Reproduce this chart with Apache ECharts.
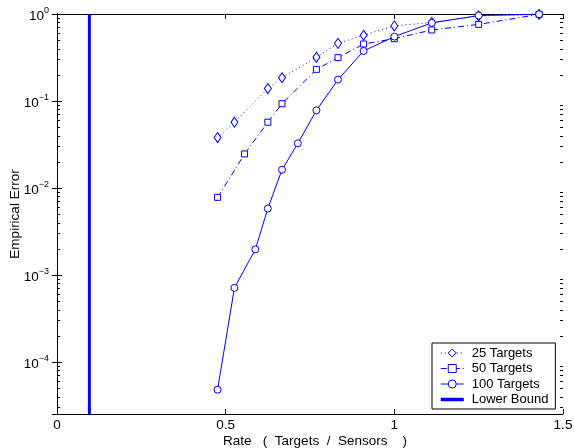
<!DOCTYPE html>
<html>
<head>
<meta charset="utf-8">
<script src="https://cdn.jsdelivr.net/npm/echarts@6/dist/echarts.min.js"></script>
<style>html,body{margin:0;padding:0;background:#fff}#c{width:574px;height:448px}</style>
</head>
<body>
<div id="c"></div>
<script>
// ---- data ----
var rates25 = [0.476, 0.526, 0.625, 0.667, 0.769, 0.833, 0.909, 1.0, 1.111, 1.25, 1.429];
var err25   = [0.038, 0.057, 0.139, 0.185, 0.318, 0.46, 0.57, 0.73, 0.80, 0.95, 0.99];
var rates50 = [0.476, 0.556, 0.625, 0.667, 0.769, 0.833, 0.909, 1.0, 1.111, 1.25, 1.429];
var err50   = [0.0078, 0.0246, 0.057, 0.093, 0.231, 0.315, 0.452, 0.52, 0.655, 0.76, 0.99];
var rates100 = [0.476, 0.526, 0.588, 0.625, 0.667, 0.714, 0.769, 0.833, 0.909, 1.0, 1.111, 1.25, 1.429];
var err100   = [4.8e-5, 7.1e-4, 1.97e-3, 5.8e-3, 0.0162, 0.0326, 0.078, 0.176, 0.376, 0.55, 0.79, 0.96, 0.995];
var lowerBound = 0.096;
var xTicks = [0, 0.5, 1, 1.5];
var yMin = 2.52e-5, yMax = 1;
var minorTicks = [];
[-5, -4, -3, -2, -1].forEach(function (k) {
  [2, 3, 4, 5, 6, 7, 8, 9].forEach(function (m) {
    var v = m * Math.pow(10, k);
    if (v >= yMin && v < yMax) minorTicks.push(v);
  });
});

function pairs(xs, ys) { return xs.map(function (x, i) { return [x, ys[i]]; }); }

var blue = '#0000ff';
var font = 'Liberation Sans, Arial, Helvetica, sans-serif';

var chart = echarts.init(document.getElementById('c'), null, { renderer: 'canvas' });

function yLabel(v) {
  var l = Math.log10(v);
  var r = Math.round(l);
  if (Math.abs(l - r) > 1e-6) return '';
  var e = r < 0 ? '\u2212' + (-r) : String(r);
  return '{b|10}{s|' + e + '}';
}

var axisLine = { show: true, lineStyle: { color: '#000', width: 1 } };
var tick = { inside: true, length: 5, lineStyle: { color: '#000' } };

var option = {
  animation: false,
  backgroundColor: '#fff',
  grid: { left: 57, top: 14, right: 11, bottom: 34, containLabel: false, outerBoundsMode: 'none' },
  xAxis: [{
    type: 'value', min: 0, max: 1.5, interval: 0.5, position: 'bottom',
    axisLine: axisLine, axisTick: tick,
    axisLabel: { color: '#000', fontSize: 13.5, fontFamily: font, margin: 4,
      formatter: function (v) { return xTicks.indexOf(v) >= 0 ? String(v) : ''; } },
    splitLine: { show: false },
    name: 'Rate   (  Targets  /  Sensors    )', nameLocation: 'middle', nameGap: 20,
    nameMoveOverlap: false,
    nameTextStyle: { color: '#000', fontSize: 13.5, fontFamily: font, padding: [0, 0, 0, 10] }
  }, {
    type: 'value', min: 0, max: 1.5, interval: 0.5, position: 'top',
    axisLine: axisLine, axisTick: tick,
    axisLabel: { show: false }, splitLine: { show: false }
  }],
  yAxis: [{
    type: 'log', logBase: 10, min: yMin, max: yMax, position: 'left',
    axisLine: axisLine, axisTick: tick,
    axisLabel: { color: '#000', fontFamily: font, margin: 8, formatter: yLabel,
      showMinLabel: false,
      rich: { b: { fontSize: 13.5, fontFamily: font, color: '#000', padding: [4, 0, 0, 0] },
              s: { fontSize: 9, fontFamily: font, color: '#000', padding: [0, 0, 6, 0] } } },
    splitLine: { show: false },
    name: 'Empirical Error', nameLocation: 'middle', nameGap: 35,
    nameMoveOverlap: false,
    nameTextStyle: { color: '#000', fontSize: 13.5, fontFamily: font }
  }, {
    type: 'log', logBase: 10, min: yMin, max: yMax, position: 'right',
    axisLine: axisLine, axisTick: tick,
    axisLabel: { show: false }, splitLine: { show: false }
  }],
  legend: {
    left: 432, top: 343, orient: 'vertical',
    backgroundColor: '#fff', borderColor: '#000', borderWidth: 1, borderRadius: 0,
    padding: [2.5, 7, 2, 7],
    itemWidth: 23, itemHeight: 10, itemGap: 0.5,
    lineStyle: { width: 1 },
    itemStyle: { borderWidth: 1 },
    textStyle: { color: '#000', fontSize: 13, fontFamily: font, lineHeight: 15, padding: [0, 0, 0, 3] },
    data: ['25 Targets', '50 Targets', '100 Targets',
      { name: 'Lower Bound', lineStyle: { width: 3.5 } }]
  },
  series: [{
    name: '25 Targets', type: 'line', data: pairs(rates25, err25),
    symbol: 'diamond', symbolSize: [7, 10],
    lineStyle: { color: blue, width: 1, type: [1, 3] },
    itemStyle: { color: '#fff', borderColor: blue, borderWidth: 1 }, z: 3
  }, {
    name: '50 Targets', type: 'line', data: pairs(rates50, err50),
    symbol: 'rect', symbolSize: 6,
    lineStyle: { color: blue, width: 1, type: [6, 3, 1, 3] },
    itemStyle: { color: '#fff', borderColor: blue, borderWidth: 1 }, z: 3
  }, {
    name: '100 Targets', type: 'line', data: pairs(rates100, err100),
    symbol: 'circle', symbolSize: 7,
    lineStyle: { color: blue, width: 1, type: 'solid' },
    itemStyle: { color: '#fff', borderColor: blue, borderWidth: 1 }, z: 3
  }, {
    name: 'Lower Bound', type: 'line', data: [[lowerBound, yMin], [lowerBound, yMax]],
    symbol: 'none', lineStyle: { color: blue, width: 3 },
    itemStyle: { color: 'rgba(0,0,0,0)', borderWidth: 0 }, z: 2
  }, {
    type: 'custom', name: 'minorTicks', silent: true, clip: false,
    data: minorTicks.map(function (v) { return [0, v]; }),
    renderItem: function (params, api) {
      var v = api.value(1);
      var pl = api.coord([0, v]);
      var pr = api.coord([1.5, v]);
      var st = { stroke: '#000', lineWidth: 1 };
      return { type: 'group', children: [
        { type: 'line', shape: { x1: pl[0], y1: Math.round(pl[1]) + 0.5, x2: pl[0] + 3, y2: Math.round(pl[1]) + 0.5 }, style: st },
        { type: 'line', shape: { x1: pr[0], y1: Math.round(pr[1]) + 0.5, x2: pr[0] - 3, y2: Math.round(pr[1]) + 0.5 }, style: st }
      ] };
    },
    z: 4
  }]
};
chart.setOption(option);
</script>
</body>
</html>
